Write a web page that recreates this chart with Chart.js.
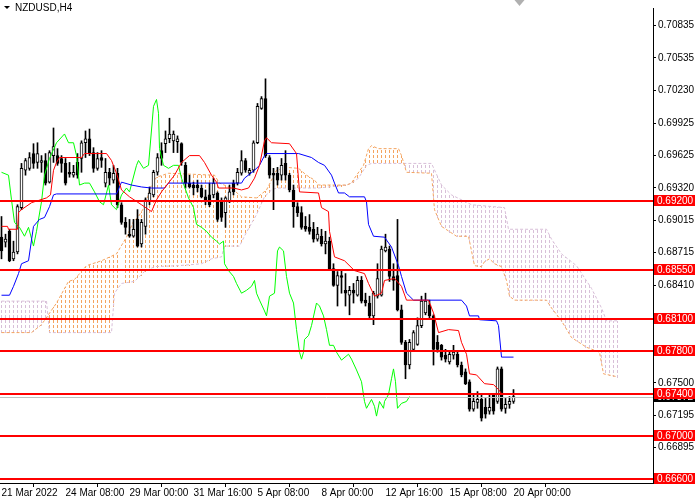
<!DOCTYPE html>
<html>
<head>
<meta charset="utf-8">
<script src="https://cdn.jsdelivr.net/npm/chart.js"></script>
<style>
  html, body { margin: 0; padding: 0; background: #fff; }
  canvas { display: block; }
</style>
</head>
<body>
<canvas id="chart" width="700" height="501"></canvas>
<script>
const symbol = 'NZDUSD,H4';

// time axis: one label every 16 H4 bars
const timeTickBars = [0, 16, 32, 48, 64, 80, 96, 112, 128];
const timeLabels = ['21 Mar 2022', '24 Mar 08:00', '29 Mar 00:00', '31 Mar 16:00', '5 Apr 08:00',
  '8 Apr 00:00', '12 Apr 16:00', '15 Apr 08:00', '20 Apr 00:00'];

const priceTicks = [0.70835, 0.70535, 0.70230, 0.69925, 0.69625, 0.69320, 0.69015, 0.68715,
  0.68410, 0.67500, 0.67195, 0.66895];

// horizontal support / resistance levels
const levels = [0.6920, 0.6855, 0.6810, 0.6780, 0.6740, 0.6700, 0.6660];

const opens = [
  0.68860,0.68814,0.68915,0.68658,0.68722,0.69136,0.69485,0.69503,0.69641,0.69558,
  0.69558,0.69576,0.69374,0.69622,0.69622,0.69595,0.69549,0.69466,0.69439,0.69558,
  0.69595,0.69742,0.69779,0.69650,0.69503,0.69604,0.69365,0.69466,0.69393,0.69457,
  0.69163,0.68998,0.68888,0.68869,0.69026,0.68796,0.68961,0.69191,0.69255,0.69466,
  0.69668,0.69733,0.69779,0.69760,0.69751,0.69733,0.69531,0.69365,0.69347,0.69347,
  0.69319,0.69237,0.69255,0.69255,0.69273,0.69191,0.69090,0.69191,0.69365,0.69365,
  0.69457,0.69576,0.69457,0.69485,0.69742,0.70063,0.70155,0.69604,0.69457,0.69457,
  0.69439,0.69549,0.69439,0.69301,0.69145,0.69090,0.68961,0.68952,0.68934,0.68842,
  0.68869,0.68796,0.68823,0.68566,0.68410,0.68502,0.68364,0.68318,0.68364,0.68318,
  0.68456,0.68272,0.68245,0.68125,0.68309,0.68318,0.68732,0.68750,0.68493,0.68502,
  0.68181,0.67878,0.67666,0.67813,0.67859,0.68034,0.68153,0.68226,0.68125,0.67878,
  0.67850,0.67758,0.67694,0.67758,0.67767,0.67666,0.67602,0.67510,0.67253,0.67317,
  0.67345,0.67271,0.67235,0.67391,0.67326,0.67630,0.67262,0.67299,0.67326];
const highs = [
  0.69053,0.68888,0.68934,0.68823,0.69163,0.69549,0.69595,0.69650,0.69733,0.69742,
  0.69622,0.69641,0.69668,0.69880,0.69687,0.69622,0.69595,0.69558,0.69531,0.69641,
  0.69760,0.69852,0.69870,0.69696,0.69650,0.69668,0.69595,0.69503,0.69531,0.69503,
  0.69182,0.69044,0.69026,0.69026,0.69117,0.69026,0.69227,0.69329,0.69485,0.69641,
  0.69742,0.69852,0.69971,0.69852,0.69806,0.69742,0.69558,0.69439,0.69374,0.69393,
  0.69347,0.69301,0.69365,0.69411,0.69283,0.69227,0.69237,0.69347,0.69393,0.69503,
  0.69668,0.69595,0.69503,0.69760,0.70109,0.70173,0.70339,0.69622,0.69503,0.69512,
  0.69595,0.69668,0.69457,0.69347,0.69182,0.69145,0.69053,0.69071,0.68998,0.68952,
  0.68934,0.68915,0.68860,0.68612,0.68539,0.68548,0.68520,0.68401,0.68428,0.68493,
  0.68493,0.68337,0.68309,0.68355,0.68612,0.68777,0.68888,0.68777,0.68612,0.69026,
  0.68226,0.67896,0.67905,0.67988,0.68107,0.68309,0.68337,0.68272,0.68135,0.67942,
  0.67859,0.67813,0.67786,0.67850,0.67786,0.67694,0.67630,0.67528,0.67400,0.67418,
  0.67391,0.67354,0.67391,0.67400,0.67648,0.67648,0.67354,0.67372,0.67437];
const lows = [
  0.68658,0.68768,0.68631,0.68640,0.68704,0.69117,0.69439,0.69485,0.69503,0.69503,
  0.69466,0.69347,0.69365,0.69558,0.69531,0.69466,0.69347,0.69420,0.69420,0.69411,
  0.69466,0.69604,0.69622,0.69466,0.69485,0.69512,0.69329,0.69347,0.69365,0.69136,
  0.68980,0.68888,0.68860,0.68860,0.68768,0.68768,0.68888,0.69163,0.69237,0.69439,
  0.69531,0.69650,0.69742,0.69650,0.69650,0.69531,0.69319,0.69319,0.69255,0.69283,
  0.69227,0.69163,0.69145,0.69227,0.69007,0.69007,0.68952,0.69182,0.69255,0.69347,
  0.69439,0.69466,0.69439,0.69466,0.69733,0.70054,0.69604,0.69411,0.69117,0.69347,
  0.69393,0.69393,0.69283,0.68952,0.69053,0.68934,0.68915,0.68888,0.68814,0.68823,
  0.68777,0.68704,0.68548,0.68401,0.68217,0.68337,0.68217,0.68135,0.68245,0.68309,
  0.68245,0.68217,0.68107,0.68043,0.68291,0.68309,0.68722,0.68447,0.68364,0.68171,
  0.67859,0.67538,0.67630,0.67804,0.67850,0.68015,0.68135,0.68107,0.67666,0.67786,
  0.67712,0.67694,0.67675,0.67721,0.67648,0.67556,0.67483,0.67235,0.67235,0.67262,
  0.67143,0.67170,0.67207,0.67207,0.67308,0.67235,0.67216,0.67262,0.67308];
const closes = [
  0.68732,0.68842,0.68640,0.68722,0.69145,0.69503,0.69576,0.69604,0.69549,0.69641,
  0.69576,0.69365,0.69650,0.69705,0.69549,0.69549,0.69365,0.69448,0.69466,0.69439,
  0.69742,0.69779,0.69641,0.69503,0.69595,0.69576,0.69466,0.69411,0.69457,0.69163,
  0.68998,0.68952,0.68869,0.68934,0.68777,0.68998,0.69209,0.69273,0.69466,0.69604,
  0.69595,0.69779,0.69824,0.69824,0.69779,0.69558,0.69365,0.69329,0.69319,0.69319,
  0.69237,0.69191,0.69163,0.69365,0.69026,0.69044,0.69227,0.69283,0.69283,0.69466,
  0.69576,0.69485,0.69485,0.69742,0.70082,0.70155,0.69622,0.69439,0.69439,0.69393,
  0.69531,0.69439,0.69301,0.69145,0.69090,0.68952,0.68934,0.68915,0.68842,0.68888,
  0.68796,0.68823,0.68566,0.68410,0.68502,0.68484,0.68337,0.68364,0.68337,0.68456,
  0.68263,0.68245,0.68125,0.68337,0.68474,0.68750,0.68768,0.68493,0.68456,0.68181,
  0.67878,0.67666,0.67878,0.67969,0.68034,0.68263,0.68263,0.68125,0.67813,0.67813,
  0.67740,0.67721,0.67767,0.67786,0.67666,0.67574,0.67492,0.67253,0.67326,0.67345,
  0.67170,0.67207,0.67271,0.67235,0.67630,0.67253,0.67299,0.67326,0.67372];

// ichimoku lines as [bar, price] vertices
const tenkan = [[0,0.68961],[1.5,0.68961],[1.75,0.68934],[4,0.68934],[4.25,0.69090],[5,0.69117],[7.5,0.69182],
  [11.25,0.69227],[12.25,0.69255],[13,0.69485],[13.75,0.69558],[14.5,0.69604],[20,0.69604],[20.75,0.69641],
  [26.25,0.69641],[27.5,0.69576],[28.75,0.69457],[30,0.69301],[32,0.69237],[35,0.69163],[37.5,0.69099],
  [38.75,0.69209],[40,0.69283],[43.25,0.69439],[45,0.69558],[47,0.69622],[49.5,0.69622],[50.75,0.69558],
  [52.5,0.69439],[53.75,0.69374],[54.25,0.69319],[58,0.69319],[60,0.69301],[61.75,0.69319],[63.25,0.69411],
  [64.5,0.69531],[65.75,0.69760],[66.25,0.69788],[67.5,0.69742],[72,0.69733],[73.75,0.69641],[74.5,0.69283],
  [79.25,0.69273],[80,0.69136],[81.75,0.69099],[82,0.68915],[83.25,0.68676],[85.75,0.68640],[88.25,0.68548],
  [90.75,0.68520],[91.75,0.68428],[93.25,0.68309],[95,0.68337],[95.75,0.68456],[98.25,0.68474],[100,0.68401],
  [101.25,0.68272],[106.75,0.68272],[108,0.68153],[109.25,0.67969],[111.75,0.67997],[114.25,0.67988],
  [115,0.67878],[116.25,0.67767],[117,0.67584],[118.75,0.67574],[120.75,0.67492],[123,0.67483],
  [124.25,0.67437],[125,0.67400],[128,0.67391]];
const kijun = [[0,0.68318],[2,0.68318],[3,0.68401],[4.25,0.68520],[5,0.68612],[6.75,0.68640],[8,0.68961],
  [9.5,0.69026],[10.75,0.69044],[12,0.69145],[13,0.69255],[13.75,0.69264],[28.75,0.69264],[30,0.69374],
  [32.5,0.69347],[35,0.69329],[37.5,0.69319],[40.75,0.69319],[41.75,0.69365],[60,0.69365],[60.75,0.69411],
  [63.25,0.69485],[64.5,0.69531],[65.75,0.69622],[66.25,0.69641],[74.25,0.69641],[77.5,0.69604],
  [79.25,0.69558],[80.75,0.69531],[82.5,0.69439],[83.25,0.69365],[84.25,0.69273],[85.75,0.69273],
  [87,0.69237],[90.75,0.69237],[91.25,0.69191],[91.75,0.68980],[93,0.68869],[95.75,0.68860],[97.5,0.68768],
  [99.25,0.68594],[100,0.68493],[101.25,0.68337],[103,0.68272],[115,0.68272],[116.25,0.68217],[117,0.68125],
  [119.25,0.68125],[119.5,0.68089],[123.75,0.68079],[124.25,0.68034],[125,0.67740],[128,0.67740]];
const chikou = [[0,0.69466],[1.75,0.69439],[2.5,0.69209],[3.25,0.68998],[4.5,0.68952],[5.75,0.68869],
  [6.75,0.68952],[8,0.68777],[8.75,0.68915],[10,0.69191],[10.75,0.69439],[12,0.69595],[13.75,0.69742],
  [15.75,0.69824],[16.75,0.69742],[18,0.69742],[18.75,0.69622],[19.5,0.69347],[20.75,0.69365],[22,0.69365],
  [23.25,0.69283],[24.5,0.69191],[25.5,0.69163],[26.75,0.69347],[27.5,0.69163],[28.75,0.69117],[30,0.69255],
  [31.25,0.69319],[32,0.69283],[33.75,0.69531],[34.25,0.69576],[35.5,0.69503],[36.75,0.69531],[38,0.70082],
  [38.75,0.70146],[39.25,0.70017],[39.5,0.69687],[40.5,0.69531],[41.75,0.69503],[43,0.69531],[44.25,0.69531],
  [45,0.69411],[46.75,0.69227],[48,0.69136],[48.75,0.68980],[50,0.68952],[51.25,0.68915],[52.5,0.68860],
  [53.75,0.68823],[54.5,0.68796],[55.5,0.68823],[55.75,0.68612],[56.75,0.68548],[58,0.68493],[58.75,0.68428],
  [60,0.68337],[61.25,0.68364],[62.5,0.68401],[63.25,0.68456],[63.75,0.68337],[64.5,0.68272],[65.75,0.68171],
  [66.25,0.68125],[67,0.68309],[68.25,0.68337],[69,0.68732],[69.5,0.68768],[70.5,0.68732],[71.25,0.68493],
  [72,0.68337],[73,0.68245],[73.75,0.67997],[74.5,0.67786],[75,0.67721],[75.5,0.67786],[75.75,0.67905],
  [76.75,0.67942],[77.5,0.68034],[78.75,0.68245],[79.5,0.68217],[80.5,0.68125],[81.25,0.67997],[82,0.67850],
  [83,0.67850],[83.75,0.67786],[85,0.67712],[86.75,0.67767],[87.5,0.67721],[88.75,0.67620],[90,0.67510],
  [90.75,0.67326],[91.25,0.67262],[92.5,0.67345],[93.25,0.67280],[93.75,0.67189],[94.5,0.67326],
  [95.5,0.67262],[95.75,0.67326],[96.75,0.67391],[97.5,0.67538],[98,0.67630],[98.5,0.67510],[99,0.67262],
  [100,0.67308],[101.25,0.67326],[102,0.67372]];
const spanA = [[0,0.67969],[7.5,0.67969],[10,0.68043],[13.75,0.68245],[16.75,0.68447],[18.25,0.68465],
  [21.25,0.68594],[25,0.68640],[28.75,0.68704],[31.25,0.68860],[33,0.69007],[34.25,0.69053],[35.75,0.69145],
  [37.5,0.69347],[38.75,0.69420],[41.75,0.69457],[53.25,0.69439],[54.5,0.69365],[57.5,0.69319],[60,0.69237],
  [63.75,0.69227],[66.25,0.69301],[67.5,0.69393],[68.75,0.69485],[71.25,0.69512],[74.25,0.69503],
  [76.25,0.69439],[78.25,0.69393],[79.25,0.69347],[86.25,0.69347],[87.5,0.69365],[88.25,0.69411],
  [90.5,0.69531],[91.75,0.69687],[92.5,0.69714],[94.25,0.69687],[99.25,0.69687],[100,0.69622],
  [101.25,0.69466],[107.5,0.69457],[108.25,0.69117],[110,0.68961],[113.75,0.68869],[116.75,0.68869],
  [117.5,0.68732],[118.25,0.68594],[120,0.68585],[120.75,0.68631],[122,0.68658],[123.25,0.68612],
  [125,0.68585],[126.25,0.68456],[127,0.68309],[128.25,0.68272],[136.25,0.68272],[137.5,0.68199],
  [140,0.68079],[142.5,0.67923],[146.25,0.67832],[149.5,0.67786],[150.5,0.67584],[154,0.67556]];
const spanB = [[0,0.68263],[11.25,0.68263],[12,0.67969],[27.5,0.67969],[28.25,0.68337],[30,0.68428],
  [33.25,0.68447],[35.75,0.68539],[38.25,0.68585],[44.25,0.68594],[50,0.68612],[52.5,0.68658],[55,0.68676],
  [55.75,0.68777],[59.5,0.68777],[61.25,0.68906],[63.75,0.69071],[65.75,0.69237],[67.5,0.69301],
  [68.75,0.69319],[79.25,0.69319],[86.25,0.69347],[87.5,0.69365],[89.25,0.69411],[91.25,0.69531],
  [92.5,0.69549],[107.5,0.69549],[110,0.69347],[112.5,0.69255],[117.5,0.69163],[125.75,0.69136],
  [126.75,0.68934],[136.25,0.68934],[137.5,0.68842],[140,0.68704],[143.75,0.68594],[147.5,0.68382],
  [150,0.68199],[151.25,0.68079],[154,0.68079]];

Chart.defaults.font.family = "'Liberation Sans', Arial, sans-serif";
Chart.defaults.font.size = 10;
Chart.defaults.color = '#000';

const pts = arr => arr.map(p => ({ x: p[0], y: p[1] }));

// dotted vertical hatch between the two senkou spans, one column per bar
const cloud = {
  id: 'cloud',
  beforeDatasetsDraw(chart) {
    const { ctx, scales: { x } } = chart;
    const lineA = chart.getDatasetMeta(5).dataset;
    const lineB = chart.getDatasetMeta(6).dataset;
    const last = spanA[spanA.length - 1][0];
    ctx.save();
    for (let i = 0; i <= last; i++) {
      const px = Math.floor(x.getPixelForValue(i));
      const a = lineA.interpolate({ x: px + 0.5 }, 'x');
      const b = lineB.interpolate({ x: px + 0.5 }, 'x');
      if (!a || !b) continue;
      ctx.fillStyle = a.y < b.y ? '#f4a460' : '#d8bfd8';
      const top = Math.round(Math.min(a.y, b.y));
      const bot = Math.round(Math.max(a.y, b.y));
      for (let yy = top; yy <= bot; yy++) {
        if (yy % 5 < 3) ctx.fillRect(px, yy, 1, 1);
      }
    }
    ctx.restore();
  }
};

const overlay = {
  id: 'overlay',
  afterDatasetsDraw(chart) {
    const { ctx, chartArea: a, scales: { y } } = chart;
    ctx.save();
    const by = Math.round(y.getPixelForValue(closes[closes.length - 1])) + 0.5;
    ctx.strokeStyle = '#c0c0c0';
    ctx.lineWidth = 1;
    ctx.beginPath(); ctx.moveTo(a.left, by); ctx.lineTo(a.right, by); ctx.stroke();
    ctx.strokeStyle = '#ff0000';
    ctx.lineWidth = 2;
    levels.forEach(v => {
      const py = Math.round(y.getPixelForValue(v));
      ctx.beginPath(); ctx.moveTo(a.left, py); ctx.lineTo(a.right, py); ctx.stroke();
    });
    ctx.restore();
  },
  afterDraw(chart) {
    const { ctx, chartArea: a, scales: { x, y } } = chart;
    ctx.save();
    ctx.font = "10px 'Liberation Sans', Arial, sans-serif";
    ctx.textBaseline = 'middle';
    const tag = (v, bg) => {
      const py = Math.round(y.getPixelForValue(v));
      ctx.fillStyle = bg;
      ctx.fillRect(a.right + 1, py - 6, 41, 11);
      ctx.fillStyle = '#fff';
      ctx.fillText(v.toFixed(5), a.right + 4, py);
    };
    tag(closes[closes.length - 1], '#000');
    levels.forEach(v => tag(v, '#ff0000'));

    // symbol caption
    ctx.fillStyle = '#000';
    ctx.beginPath(); ctx.moveTo(4, 6); ctx.lineTo(10, 6); ctx.lineTo(7, 9); ctx.closePath(); ctx.fill();
    ctx.fillText(symbol, 15, 8);

    // chart shift marker
    const sx = x.getPixelForValue(closes.length + 0.5);
    ctx.fillStyle = '#b0b0b0';
    ctx.beginPath(); ctx.moveTo(sx - 5, 0); ctx.lineTo(sx + 5, 0); ctx.lineTo(sx, 6); ctx.closePath(); ctx.fill();
    ctx.restore();
  }
};

new Chart(document.getElementById('chart'), {
  type: 'line',
  data: {
    datasets: [
      { label: 'Tenkan', data: pts(tenkan), borderColor: '#ff0000', borderWidth: 1, pointRadius: 0, order: 0 },
      { label: 'Kijun', data: pts(kijun), borderColor: '#0000ff', borderWidth: 1, pointRadius: 0, order: 0 },
      { label: 'Chikou', data: pts(chikou), borderColor: '#00ff00', borderWidth: 1, pointRadius: 0, order: 0 },
      {
        type: 'bar', label: 'body',
        data: opens.map((o, i) => ({ x: i, y: [o, closes[i]] })),
        backgroundColor: opens.map((o, i) => closes[i] >= o ? '#ffffff' : '#000000'),
        borderColor: '#000', borderWidth: 1, borderSkipped: false,
        barThickness: 3, grouped: false, order: 1
      },
      {
        type: 'bar', label: 'wick',
        data: highs.map((h, i) => ({ x: i, y: [lows[i], h] })),
        backgroundColor: '#000', borderWidth: 0,
        barThickness: 1, grouped: false, order: 2
      },
      { label: 'Senkou A', data: pts(spanA), borderColor: '#f4a460', borderWidth: 1, borderDash: [3, 2], pointRadius: 0, fill: false, order: 3 },
      { label: 'Senkou B', data: pts(spanB), borderColor: '#d8bfd8', borderWidth: 1, borderDash: [3, 2], pointRadius: 0, fill: false, order: 3 }
    ]
  },
  options: {
    responsive: false,
    animation: false,
    layout: { padding: 0 },
    plugins: { legend: { display: false }, tooltip: { enabled: false } },
    scales: {
      x: {
        type: 'linear', min: -0.375, max: 162.875, offset: false,
        afterBuildTicks: s => { s.ticks = timeTickBars.map(v => ({ value: v })); },
        afterFit: s => { s.height = 18; },
        ticks: { callback: (v, i) => timeLabels[i], align: 'start', maxRotation: 0, autoSkip: false, padding: 0, color: '#000' },
        grid: { drawOnChartArea: false, tickLength: 4, color: '#000' },
        border: { display: true, color: '#000' }
      },
      y: {
        type: 'linear', position: 'right', min: 0.665644, max: 0.710003,
        afterBuildTicks: s => { s.ticks = priceTicks.map(v => ({ value: v })); },
        afterFit: s => { s.width = 47; },
        ticks: { callback: v => v.toFixed(5), autoSkip: false, padding: 2, color: '#000' },
        grid: { drawOnChartArea: false, tickLength: 3, color: '#000' },
        border: { display: true, color: '#000' }
      }
    }
  },
  plugins: [cloud, overlay]
});
</script>
</body>
</html>
